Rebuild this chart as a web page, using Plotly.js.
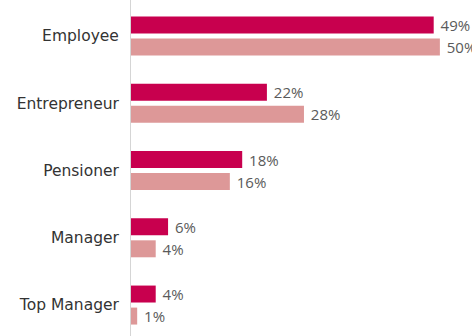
<!DOCTYPE html>
<html>
<head>
<meta charset="utf-8">
<script src="https://cdn.plot.ly/plotly-3.0.1.min.js"></script>
<style>html,body{margin:0;padding:0;background:#fff;}#chart{width:472px;height:336px;}</style>
</head>
<body>
<div id="chart"></div>
<script>
const categories = ["Employee", "Entrepreneur", "Pensioner", "Manager", "Top Manager"];
const seriesA = [49, 22, 18, 6, 4];
const seriesB = [50, 28, 16, 4, 1];

const txt = v => v.map(x => "\u00a0" + x + "%");
const common = {
  type: "bar", orientation: "h", y: categories,
  textposition: "outside", cliponaxis: false, constraintext: "none",
  textfont: {family: "Open Sans, sans-serif", size: 15, color: "#5a5a5a"},
  hoverinfo: "none"
};
const data = [
  Object.assign({}, common, {x: seriesA, text: txt(seriesA), marker: {color: "#c8004e"}}),
  Object.assign({}, common, {x: seriesB, text: txt(seriesB), marker: {color: "#dd9898"}})
];
const layout = {
  width: 472, height: 336,
  margin: {l: 131, r: 0, t: 0, b: 0},
  paper_bgcolor: "#fff", plot_bgcolor: "#fff",
  barmode: "group", bargap: 0.345, bargroupgap: 0.23,
  showlegend: false,
  font: {family: "DejaVu Sans, sans-serif", color: "#333"},
  xaxis: {range: [0, 55.2], showgrid: false, zeroline: false, showticklabels: false, showline: false, fixedrange: true},
  yaxis: {type: "category", range: [4.46, -0.535], showgrid: false, zeroline: false,
          showline: true, linecolor: "#d5d5d5", linewidth: 1,
          ticks: "", ticklabelstandoff: 8,
          tickfont: {family: "DejaVu Sans, sans-serif", size: 15.5, color: "#333"}}
};
Plotly.newPlot("chart", data, layout, {staticPlot: true, displayModeBar: false});
</script>
</body>
</html>
